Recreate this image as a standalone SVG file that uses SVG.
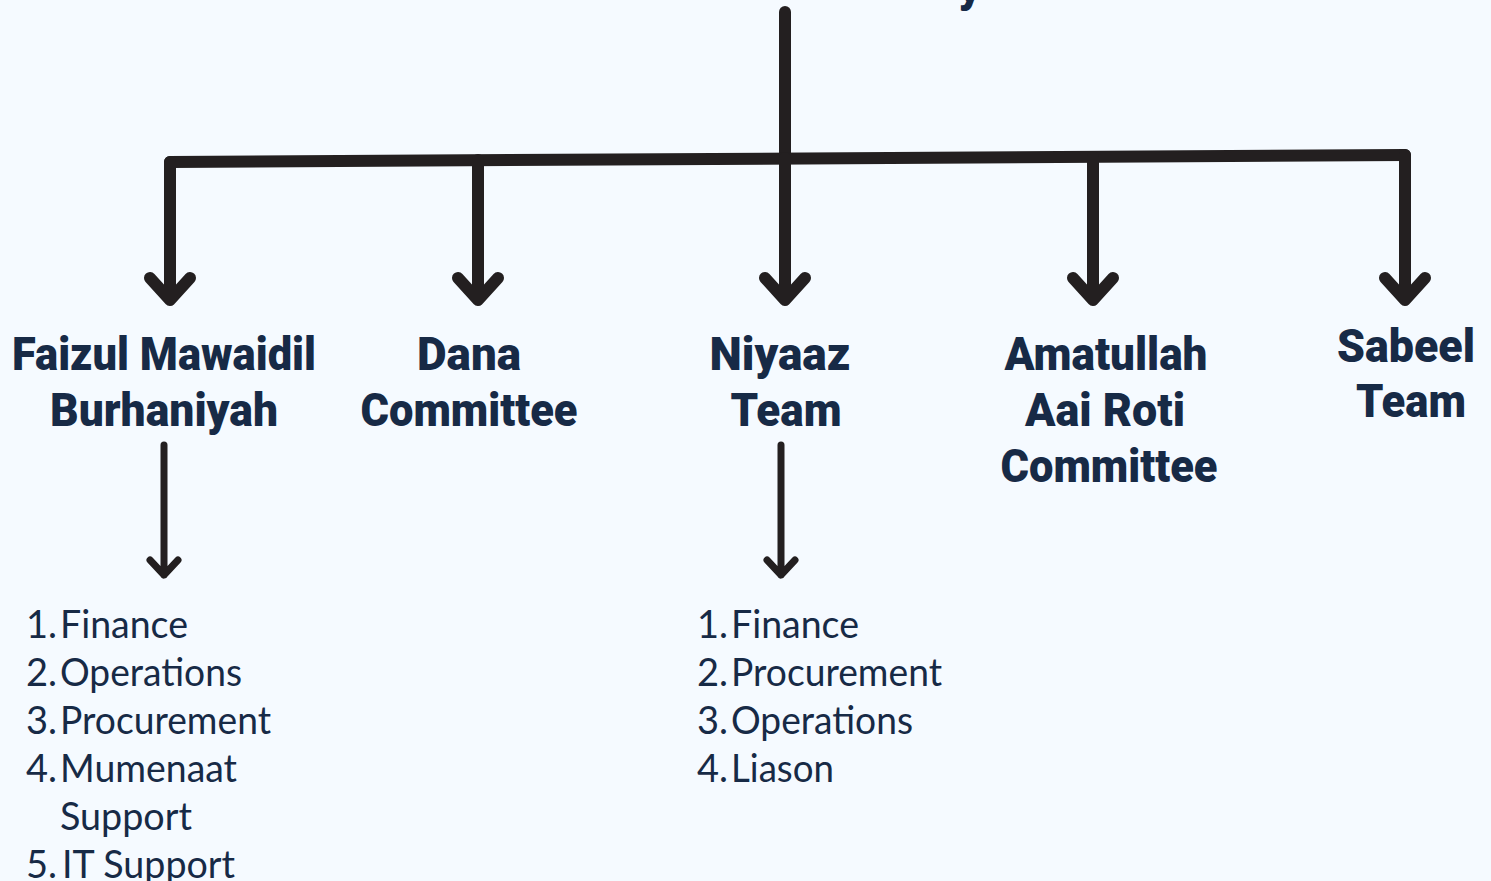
<svg xmlns="http://www.w3.org/2000/svg" width="1491" height="881" viewBox="0 0 1491 881">
<style>
.bg{fill:#f5faff}
.ln{fill:none;stroke:#231f20;stroke-width:12;stroke-linecap:round;stroke-linejoin:round}
.ln2{fill:none;stroke:#231f20;stroke-width:7;stroke-linecap:round;stroke-linejoin:round}
.h{font-family:Roboto,Lato,"Liberation Sans",sans-serif;font-weight:900;font-size:47px;fill:#172a46;text-anchor:middle}
.li{font-family:Lato,"Liberation Sans",sans-serif;font-weight:400;font-size:38px;fill:#172a46}
.num{text-anchor:end}
</style>
<rect class="bg" width="1491" height="881"/>
<text class="h" x="970" y="2" font-size="110">y</text>
<g id="connectors">
<path class="ln" d="M785,12 V155"/>
<path class="ln" d="M170,162 L1405,155"/>
<path class="ln" d="M170,162 V300 M150,278 L170,300 L190,278"/>
<path class="ln" d="M478,160 V300 M458,278 L478,300 L498,278"/>
<path class="ln" d="M785,158 V300 M765,278 L785,300 L805,278"/>
<path class="ln" d="M1093,157 V300 M1073,278 L1093,300 L1113,278"/>
<path class="ln" d="M1405,155 V300 M1385,278 L1405,300 L1425,278"/>
<path class="ln2" d="M164,445 V575 M150,560 L164,575 L178,560"/>
<path class="ln2" d="M781,445 V575 M767,560 L781,575 L795,560"/>
</g>
<g id="faizul">
<text class="h" x="164" y="370" textLength="304" lengthAdjust="spacingAndGlyphs">Faizul Mawaidil</text>
<text class="h" x="164" y="426" textLength="228" lengthAdjust="spacingAndGlyphs">Burhaniyah</text>
</g>
<g id="dana">
<text class="h" x="469" y="370" textLength="104" lengthAdjust="spacingAndGlyphs">Dana</text>
<text class="h" x="469" y="426" textLength="217" lengthAdjust="spacingAndGlyphs">Committee</text>
</g>
<g id="niyaaz">
<text class="h" x="780" y="370" textLength="141" lengthAdjust="spacingAndGlyphs">Niyaaz</text>
<text class="h" x="786" y="426" textLength="111" lengthAdjust="spacingAndGlyphs">Team</text>
</g>
<g id="amatullah">
<text class="h" x="1106" y="370" textLength="203" lengthAdjust="spacingAndGlyphs">Amatullah</text>
<text class="h" x="1105" y="426" textLength="160" lengthAdjust="spacingAndGlyphs">Aai Roti</text>
<text class="h" x="1109" y="482" textLength="217" lengthAdjust="spacingAndGlyphs">Committee</text>
</g>
<g id="sabeel">
<text class="h" x="1406" y="362" textLength="138" lengthAdjust="spacingAndGlyphs">Sabeel</text>
<text class="h" x="1411" y="417" textLength="110" lengthAdjust="spacingAndGlyphs">Team</text>
</g>
<g id="faizul-list">
<text class="li num" x="57" y="638">1.</text><text class="li" x="60" y="638" textLength="128" lengthAdjust="spacingAndGlyphs">Finance</text>
<text class="li num" x="57" y="686">2.</text><text class="li" x="60" y="686" textLength="182" lengthAdjust="spacingAndGlyphs">Operations</text>
<text class="li num" x="57" y="734">3.</text><text class="li" x="60" y="734" textLength="211" lengthAdjust="spacingAndGlyphs">Procurement</text>
<text class="li num" x="57" y="782">4.</text><text class="li" x="60" y="782" textLength="177" lengthAdjust="spacingAndGlyphs">Mumenaat</text>
<text class="li" x="60" y="830" textLength="132" lengthAdjust="spacingAndGlyphs">Support</text>
<text class="li num" x="57" y="878">5.</text><text class="li" x="62" y="878" textLength="173" lengthAdjust="spacingAndGlyphs">IT Support</text>
</g>
<g id="niyaaz-list">
<text class="li num" x="728" y="638">1.</text><text class="li" x="731" y="638" textLength="128" lengthAdjust="spacingAndGlyphs">Finance</text>
<text class="li num" x="728" y="686">2.</text><text class="li" x="731" y="686" textLength="211" lengthAdjust="spacingAndGlyphs">Procurement</text>
<text class="li num" x="728" y="734">3.</text><text class="li" x="731" y="734" textLength="182" lengthAdjust="spacingAndGlyphs">Operations</text>
<text class="li num" x="728" y="782">4.</text><text class="li" x="731" y="782" textLength="103" lengthAdjust="spacingAndGlyphs">Liason</text>
</g>
</svg>
